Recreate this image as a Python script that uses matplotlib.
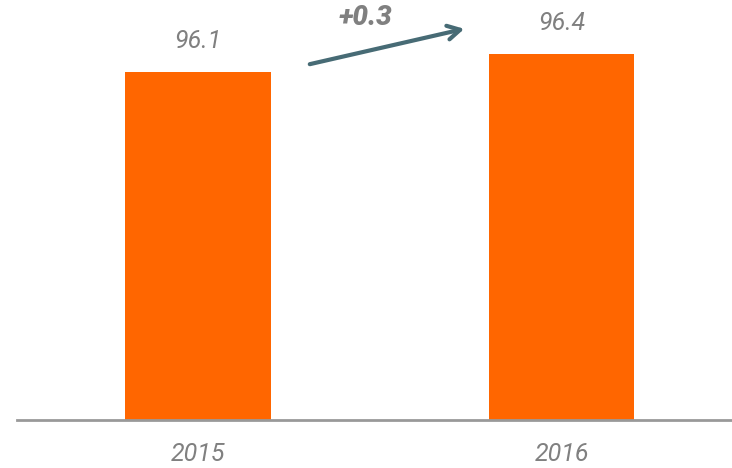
import matplotlib
matplotlib.use('Agg')
import matplotlib.pyplot as plt

years = ['2015', '2016']
values = [96.1, 96.4]
change_label = '+0.3'

bar_color = '#ff6600'
text_gray = '#808080'
arrow_color = '#476b75'

fig = plt.figure(figsize=(7.32, 4.68), dpi=100)
ax = fig.add_axes([17 / 732, 48 / 468, 715 / 732, 420 / 468])

x = list(range(len(years)))
ymin = 90.3
ax.bar(x, [v - ymin for v in values], bottom=ymin, width=0.4, color=bar_color)
ax.set_xlim(-0.498, 1.469)
ax.set_ylim(ymin, 97.3)

# value labels above bars
for xi, v in zip(x, values):
    ax.text(xi, v + 0.52, f'{v:.1f}', ha='center', va='center', fontsize=18,
            style='italic', color=text_gray, family='Roboto')

# change arrow
ax.annotate('', xy=(0.74, 96.83), xytext=(0.30, 96.22),
            arrowprops=dict(arrowstyle='->,head_length=0.9,head_width=0.5',
                            color=arrow_color, lw=3))
ax.text(0.46, 97.0, change_label, ha='center', va='center', fontsize=20,
        style='italic', weight='black', color=text_gray, family='Roboto')

# spines / ticks
for s in ['top', 'right', 'left']:
    ax.spines[s].set_visible(False)
ax.spines['bottom'].set_color('#999999')
ax.spines['bottom'].set_linewidth(2)
ax.set_yticks([])
ax.set_xticks(x)
ax.set_xticklabels(years, fontsize=18, style='italic', color=text_gray, family='Roboto')
ax.tick_params(axis='x', length=0, pad=16)

plt.savefig('out.png', dpi=100)
